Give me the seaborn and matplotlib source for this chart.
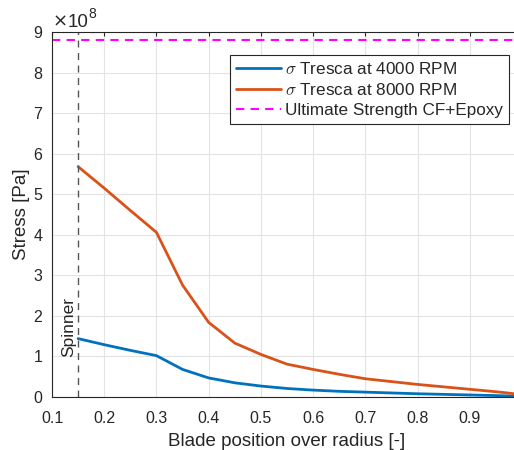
import numpy as np
import pandas as pd
import matplotlib
matplotlib.use("Agg")
import matplotlib.pyplot as plt
import seaborn as sns
from matplotlib.ticker import FuncFormatter
from matplotlib.lines import Line2D

# ---- data ----
x_pos = [0.15, 0.20, 0.25, 0.30, 0.35, 0.40, 0.45, 0.50, 0.55, 0.60, 0.65,
         0.70, 0.75, 0.80, 0.85, 0.90, 0.95, 1.00]
tresca_4000 = [1.44e8, 1.29e8, 1.15e8, 1.02e8, 0.68e8, 0.47e8, 0.35e8, 0.27e8,
               0.21e8, 0.17e8, 0.14e8, 0.12e8, 0.10e8, 0.08e8, 0.065e8,
               0.05e8, 0.035e8, 0.015e8]
tresca_8000 = [5.68e8, 5.15e8, 4.60e8, 4.06e8, 2.76e8, 1.84e8, 1.33e8, 1.05e8,
               0.81e8, 0.68e8, 0.56e8, 0.45e8, 0.38e8, 0.31e8, 0.25e8,
               0.19e8, 0.13e8, 0.06e8]
ultimate_strength = 8.8e8
spinner_x = 0.15
series_labels = [r"$\sigma$ Tresca at 4000 RPM", r"$\sigma$ Tresca at 8000 RPM"]
xticks = [0.1, 0.2, 0.3, 0.4, 0.5, 0.6, 0.7, 0.8, 0.9]
yticks = [i * 1e8 for i in range(10)]

df = pd.DataFrame({
    "x": x_pos * 2,
    "stress": tresca_4000 + tresca_8000,
    "series": [series_labels[0]] * len(x_pos) + [series_labels[1]] * len(x_pos),
})

sns.set_style("white")
plt.rcParams["font.family"] = ["Liberation Sans", "DejaVu Sans"]
plt.rcParams["mathtext.fontset"] = "cm"

TXT = "#262626"
fig = plt.figure(figsize=(5.14, 4.5), dpi=100)
# axes extends slightly past the right edge of the image (clipped like the reference)
ax = fig.add_axes([52 / 514, 1 - 397 / 450, 470 / 514, 365 / 450])

palette = {series_labels[0]: "#0072BD", series_labels[1]: "#D95319"}
sns.lineplot(data=df, x="x", y="stress", hue="series", palette=palette,
             linewidth=2, ax=ax, legend=False)
ax.axhline(ultimate_strength, color="#FF00FF", linestyle=(0, (4, 3)), linewidth=1.5)
ax.axvline(spinner_x, color="#555555", linestyle=(0, (5, 4)), linewidth=1.0)

ax.set_xlim(0.1, 1.0)
ax.set_ylim(0, 9e8)
ax.set_xticks(xticks)
ax.set_yticks(yticks)
ax.yaxis.set_major_formatter(FuncFormatter(lambda v, p: f"{v/1e8:g}"))
ax.xaxis.set_major_formatter(FuncFormatter(lambda v, p: f"{v:.1f}"))
ax.grid(True, color="#e3e3e3", linewidth=0.8)
ax.set_axisbelow(True)

ax.tick_params(direction="in", length=3, width=0.8, colors=TXT,
               labelsize=11.5, top=True, right=True)
ax.tick_params(axis="y", pad=7)
ax.tick_params(axis="x", pad=10)
for s in ax.spines.values():
    s.set_color(TXT)
    s.set_linewidth(0.8)

ax.set_xlabel("Blade position over radius [-]", fontsize=13.5, color=TXT, labelpad=5)
ax.set_ylabel("Stress [Pa]", fontsize=13.5, color=TXT, labelpad=2)

# exponent label
fig.text(53 / 514, 1 - 27 / 450, "×", fontsize=13, color=TXT, ha="left",
         va="baseline", family="DejaVu Sans")
fig.text(68 / 514, 1 - 27 / 450, "10", fontsize=13.5, color=TXT, ha="left", va="baseline")
fig.text(88 / 514, 1 - 18 / 450, "8", fontsize=10, color=TXT, ha="left", va="baseline")

ax.text(spinner_x - 0.004, 1.72e8, "Spinner", rotation=90, ha="right", va="center",
        fontsize=12.5, color=TXT)

handles = [Line2D([], [], color="#0072BD", lw=2),
           Line2D([], [], color="#D95319", lw=2),
           Line2D([], [], color="#FF00FF", lw=1.5, linestyle=(0, (4, 3)))]
labels = series_labels + ["Ultimate Strength CF+Epoxy"]
leg = ax.legend(handles, labels, loc="upper right",
                bbox_to_anchor=((509 - 52) / 470, (397 - 55) / 365),
                fontsize=12.3, frameon=True, fancybox=False, framealpha=1,
                edgecolor=TXT, handlelength=2.6, handletextpad=0.25,
                borderpad=0.35, labelspacing=0.3, borderaxespad=0.0)
leg.get_frame().set_linewidth(0.8)

fig.savefig("out.png", dpi=100)
